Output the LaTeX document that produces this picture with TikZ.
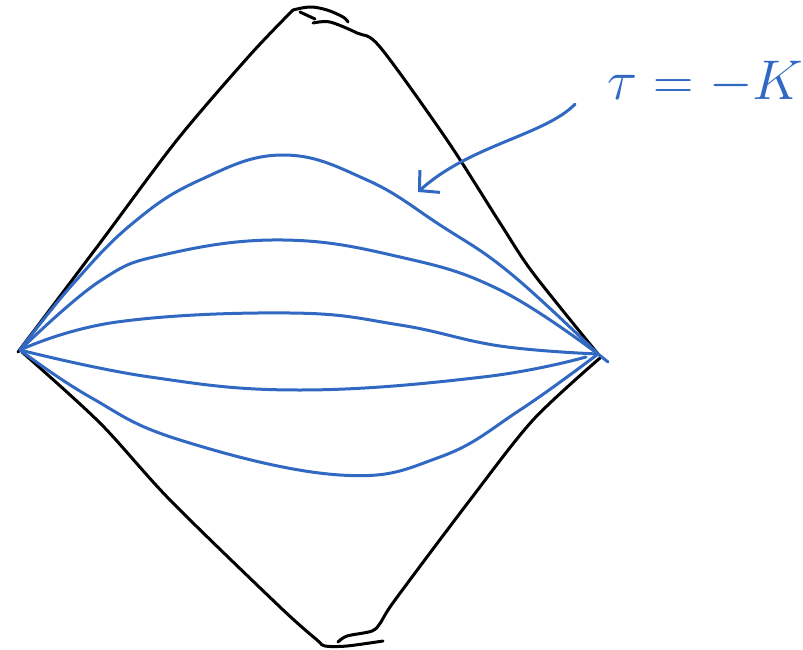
\documentclass[tikz,border=0pt]{standalone}
\usepackage{amsmath,amssymb}
\usepackage{tikz}
\usetikzlibrary{arrows.meta}
\definecolor{pen}{HTML}{3169C2}
\tikzset{
  edge/.style={line width=3pt, black, line cap=round, line join=round},
  slice/.style={line width=3pt, pen, line cap=round},
}

\begin{document}
\begin{tikzpicture}[x=1pt, y=-1pt]
\useasboundingbox (0,0) rectangle (803,650);
\coordinate (L) at (20,350);
\coordinate (R) at (598,354);
% boundary of the diamond
\draw[edge] plot[smooth, tension=0.5] coordinates {(18,352) (100,243) (177,140) (250,55) (293,10)};
\draw[edge] plot[smooth, tension=0.6] coordinates {(293,10) (310,7) (327,10) (343,17) (348,22)};
\draw[edge] (300,12) -- (315,19);
\draw[edge] plot[smooth, tension=0.5] coordinates {(313,23) (330,22) (357,33) (380,47) (447,140) (500,223) (533,273) (598,354)};
\draw[edge] plot[smooth, tension=0.5] coordinates {(22,352) (100,423) (170,500) (280,607) (317,640) (325,646) (347,646) (383,641)};
\draw[edge] plot[smooth, tension=0.5] coordinates {(600,358) (533,420) (470,500) (395,600) (381,622) (372,631) (347,636) (338,642)};
% constant time slices
\draw[slice] plot[smooth, tension=0.7] coordinates {(L) (72,285) (133,223) (200,180) (283,155) (367,180) (440,225) (510,273) (R)};
\draw[slice] plot[smooth, tension=0.7] coordinates {(L) (100,281) (167,254) (283,240) (400,257) (500,290) (R)};
\draw[slice] plot[smooth, tension=0.7] coordinates {(L) (117,322) (290,313) (400,325) (500,346) (R)};
\draw[slice] plot[smooth, tension=0.7] coordinates {(L) (150,377) (300,390) (483,377) (586,357)};
\draw[slice] plot[smooth, tension=0.7] coordinates {(L) (90,397) (180,440) (340,475) (440,457) (520,410) (R)};
\draw[slice] (R) -- (608,362);
% label
\node[pen, font=\huge, scale=2.7, anchor=base west] (tauK) at (598,100) {$\tau=-K$};
\coordinate (slicept) at (418,192);
\draw[slice, -{Straight Barb[length=14pt, width=30pt]}] ([xshift=-23pt, yshift=-21pt]tauK.west) .. controls (545,135) and (470,145) .. (slicept);
\end{tikzpicture}
\end{document}
